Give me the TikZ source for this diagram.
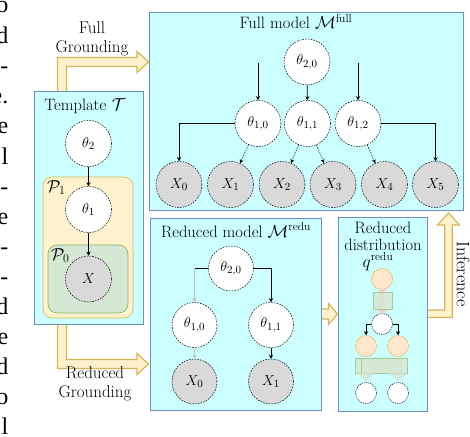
\documentclass[tikz,border=0pt]{standalone}
\usepackage{fontspec}
\newfontfamily\paperfont{Liberation Serif}
\usetikzlibrary{arrows.meta,calc}
\definecolor{boxcyan}{HTML}{CCFFFF}
\definecolor{boxblue}{HTML}{6C8EBF}
\definecolor{yelfill}{HTML}{FFF2CC}
\definecolor{yeldraw}{HTML}{D6B656}
\definecolor{grnfill}{HTML}{D5E8D4}
\definecolor{grndraw}{HTML}{82B366}
\definecolor{obsgray}{HTML}{D9D9D9}
\definecolor{peachfill}{HTML}{FFE6CC}
\definecolor{peachdraw}{HTML}{D79B00}
\definecolor{pinkfill}{HTML}{F8CECC}
\begin{document}
\begin{tikzpicture}[x=1pt,y=-1pt,
  every node/.style={font=\fontsize{16.5}{19}\selectfont},
  frag/.style={font=\paperfont\fontsize{24}{24}\selectfont, anchor=base east, inner sep=0pt},
  panel/.style={draw=boxblue, fill=boxcyan, line width=0.8pt, rectangle, inner sep=0pt, outer sep=0pt, anchor=north west},
  plateone/.style={draw=yeldraw, fill=yelfill, line width=0.6pt, rectangle, rounded corners=9pt, inner sep=0pt, outer sep=0pt, anchor=north west},
  platezero/.style={draw=grndraw, fill=grnfill, line width=0.6pt, rectangle, rounded corners=9pt, inner sep=0pt, outer sep=0pt, anchor=north west},
  var/.style={circle, draw=black, dash pattern=on 1.6pt off 1.2pt, line width=0.5pt, fill=white, minimum size=46pt, inner sep=0pt, font=\fontsize{15.5}{18}\selectfont},
  obs/.style={var, fill=obsgray},
  smallv/.style={circle, draw=black, dash pattern=on 1.2pt off 1pt, line width=0.5pt, fill=white, minimum size=21pt, inner sep=0pt},
  smallq/.style={smallv, fill=peachfill, draw=peachdraw},
  edge/.style={line width=0.6pt, -{Stealth[length=4pt,width=4pt]}},
  dedge/.style={line width=0.5pt, dash pattern=on 1.5pt off 1.2pt, -{Stealth[length=4pt,width=4pt]}},
  blockarrow/.style={fill=yelfill, draw=yeldraw, line width=1.2pt, line join=miter},
  lbl/.style={inner sep=0pt, anchor=base},
  arrowlbl/.style={align=center, inner sep=0pt, font=\fontsize{17}{19}\selectfont},
  gblock/.style={fill=grnfill, fill opacity=0.85, draw=grndraw!70, line width=0.5pt}
]
\useasboundingbox (0,0) rectangle (470,436);
% cut-off ends of the surrounding paper text
\begin{scope}
\clip (0,0) rectangle (470,436);
\foreach \t/\yy [count=\i] in {o/13, d/43, -/73, e./103, e/133, l/164, -/194, e/224, -/254, -/284, d/314, e/344, d/374, o/404, l/434}
  {\node[frag] (frag\i) at (8.5,\yy) {\t};}
\end{scope}

% block arrows (drawn under the panels)
\path[blockarrow] (57.5,93) -- (57.5,57.5) -- (137,57.5) -- (137,51.5) -- (148.5,62) -- (137,72.5) -- (137,66.5) -- (66.5,66.5) -- (66.5,93) -- cycle;
\path[blockarrow] (57.5,322) -- (57.5,368.5) -- (137,368.5) -- (137,374.5) -- (148.5,364) -- (137,353.5) -- (137,359.5) -- (66.5,359.5) -- (66.5,322) -- cycle;
\path[blockarrow] (319,309) -- (328.5,309) -- (328.5,303.5) -- (337.5,314) -- (328.5,324.5) -- (328.5,319) -- (319,319) -- cycle;
\path[blockarrow] (425,310) -- (444.75,310) -- (444.75,225) -- (437.5,225) -- (448.5,213) -- (459.5,225) -- (452.25,225) -- (452.25,317.5) -- (425,317.5) -- cycle;

% panels
\node[panel, minimum width=109pt, minimum height=233pt] (tmpl) at (34,91) {};
\node[plateone, minimum width=90pt, minimum height=141pt] (pone) at (43,177) {};
\node[platezero, minimum width=80pt, minimum height=68pt] (pzero) at (48,245) {};
\node[panel, minimum width=314pt, minimum height=198pt] (full) at (149,12) {};
\node[panel, minimum width=171pt, minimum height=192pt] (redu) at (150,218) {};
\node[panel, minimum width=89pt, minimum height=194pt] (dist) at (338,217) {};

% labels
\node[arrowlbl] (fg) at (92,39) {Full\\Grounding};
\node[arrowlbl] (rg) at (95,384) {Reduced\\Grounding};
\node[lbl] (tmpllbl) at (85,110) {Template\,\,$\mathcal{T}$};
\node[lbl, anchor=base west] (p1lbl) at (47,192) {$\mathcal{P}_1$};
\node[lbl, anchor=base west] (p0lbl) at (51,260) {$\mathcal{P}_0$};
\node[lbl] (fulllbl) at (296,29) {Full model $\mathcal{M}^{\mathrm{full}}$};
\node[lbl] (redulbl) at (236,237) {Reduced model $\mathcal{M}^{\mathrm{redu}}$};
\node[lbl] (dl1) at (383,233) {Reduced};
\node[lbl] (dl2) at (383,250) {distribution};
\node[lbl] (dl3) at (378,267) {$q^{\mathrm{redu}}$};
\node[inner sep=0pt, rotate=-90, font=\fontsize{18}{20}\selectfont] (inf) at (463,274) {Inference};

% template
\node[var] (t2) at (88.5,143.5) {$\theta_2$};
\node[var] (t1) at (88.5,209.5) {$\theta_1$};
\node[obs] (tx) at (88.5,279) {$X$};
\draw[edge] (t2) -- (t1);
\draw[edge] (t1) -- (tx);

% full model
\node[var] (f20) at (307,62) {$\theta_{2,0}$};
\node[var] (f10) at (258,123.5) {$\theta_{1,0}$};
\node[var] (f11) at (307.5,123.5) {$\theta_{1,1}$};
\node[var] (f12) at (358,123.5) {$\theta_{1,2}$};
\foreach \k/\xx in {0/179, 1/230.5, 2/282, 3/333, 4/384.5, 5/435.5}
  {\node[obs] (x\k) at (\xx,184.5) {$X_{\k}$};}
\coordinate (f10in) at (258,63);
\coordinate (f12in) at (358,63);
\draw[edge] (f10in) -- (f10);
\draw[edge] (f12in) -- (f12);
\draw[edge] (f20) -- (f11);
\draw[edge] (f10.west) -| (x0.north);
\draw[dedge] (f10) -- (x1);
\draw[dedge] (f11) -- (x2);
\draw[dedge] (f11) -- (x3);
\draw[dedge] (f12) -- (x4);
\draw[edge] (f12.east) -| (x5.north);

% reduced model
\node[var, minimum size=45pt] (r20) at (231,268.5) {$\theta_{2,0}$};
\node[var, minimum size=45pt] (r10) at (194.5,325) {$\theta_{1,0}$};
\node[var, minimum size=45pt] (r11) at (271,325) {$\theta_{1,1}$};
\node[obs, minimum size=45pt] (rx0) at (194.5,381.5) {$X_0$};
\node[obs, minimum size=45pt] (rx1) at (271,381.5) {$X_1$};
\draw[line width=0.6pt] (r20.west) -- (r20.west -| r10.north) coordinate (rc);
\draw[edge, draw=gray!50] (rc) -- (r10.north);
\draw[edge] (r20.east) -| (r11.north);
\draw[edge, draw=gray!50] (r10) -- (rx0);
\draw[edge] (r11) -- (rx1);

% reduced distribution
\node[smallq] (qa) at (382,279) {};
\node[smallv] (qb) at (382,324) {};
\node[smallq] (qc) at (366,346) {};
\node[smallq] (qd) at (398,346) {};
\node[smallv] (qe) at (366,393) {};
\node[smallv] (qf) at (398,393) {};
\path[fill=pinkfill] ($(qa.south)+(-3.5,-1)$) -- ($(qa.south)+(3.5,-1)$) -- ($(qb.north)+(3.5,-5)$) -- ($(qb.north)+(7.5,-5)$) -- ($(qb.north)+(0,0.5)$) -- ($(qb.north)+(-7.5,-5)$) -- ($(qb.north)+(-3.5,-5)$) -- cycle;
\path[gblock] (373,292) rectangle (392,309);
\draw[edge] (qb.west) -| (qc.north);
\draw[edge] (qb.east) -| (qd.north);
\path[gblock] (355,358) rectangle (401,373);
\path[gblock] (361,358) rectangle (407,373);
\path[fill=grnfill, fill opacity=0.9] ($(qe.north)+(-9,-9)$) -- ($(qe.north)+(9,-9)$) -- ($(qe.north)+(0,-1)$) -- cycle;
\path[fill=grnfill, fill opacity=0.9] ($(qf.north)+(-9,-9)$) -- ($(qf.north)+(9,-9)$) -- ($(qf.north)+(0,-1)$) -- cycle;
\end{tikzpicture}
\end{document}
